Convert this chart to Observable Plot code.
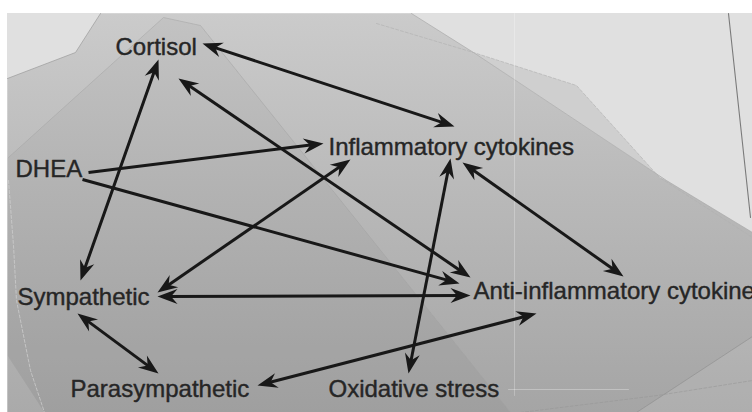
<!DOCTYPE html>
<html><head><meta charset="utf-8">
<script src="https://cdn.jsdelivr.net/npm/d3@7"></script>
<script src="https://cdn.jsdelivr.net/npm/@observablehq/plot@0.6"></script>
<style>html,body{margin:0;padding:0;background:#fff;} #chart svg{display:block;}</style>
</head><body><div id="chart"></div>
<script>
// ---- Nodes (diagram units: left edge x, vertical centre y) ----
const nodeNames = ["Cortisol", "DHEA", "Inflammatory cytokines", "Sympathetic", "Anti-inflammatory cytokines", "Parasympathetic", "Oxidative stress"];
const nodeX = [115, 15, 328, 17, 473, 70, 328];
const nodeY = [47, 169, 146.5, 297, 291, 388.5, 389];

// ---- Edges (start point -> end point), with heads ----
const edgeFrom  = ["Cortisol", "Cortisol", "Cortisol", "DHEA", "DHEA", "Inflammatory cytokines", "Sympathetic", "Inflammatory cytokines", "Inflammatory cytokines", "Sympathetic", "Parasympathetic"];
const edgeTo    = ["Inflammatory cytokines", "Sympathetic", "Anti-inflammatory cytokines", "Inflammatory cytokines", "Anti-inflammatory cytokines", "Sympathetic", "Anti-inflammatory cytokines", "Oxidative stress", "Anti-inflammatory cytokines", "Parasympathetic", "Anti-inflammatory cytokines"];
const edgeX1    = [202, 158, 178, 88, 82, 350, 157, 450, 462, 77, 257];
const edgeY1    = [43, 59, 78, 172, 179, 159, 296, 158, 162, 313, 385];
const edgeX2    = [454, 80, 470, 323, 459, 157, 470, 408, 623, 158, 536];
const edgeY2    = [126, 280, 277, 143, 283, 292, 295, 373, 276, 373, 313];
const headStart = [true, true, true, false, false, true, true, true, true, true, true];
const headEnd   = [true, true, true, true, true, true, true, true, true, true, true];

// ---- Background shapes (diagram units) ----
const panelX = [7, 752];
const panelY = [13, 412];
const shapeA = [[7,78],[75,52],[100,13],[411,13],[473,52],[666,180],[752,232],[752,412],[7,412]];
const shapeAEdge = [[7,78],[75,52],[100,13]];
const shapeAEdgeRight = [[411,13],[473,52],[666,180],[752,232]];
const shapeB = [[8,157],[163,17],[200,25],[510,412],[7,412],[7,158]];
const shapeBEdge = [[8,157],[163,17],[200,25],[510,412]];
const shapeC = [[473,52],[576,85],[659,177],[666,180]];
const shapeCEdge = [[376,23],[473,52],[576,85],[659,177],[752,237]];
const shapeD = [[636,412],[752,336],[752,412]];
const shapeDEdge = [[636,412],[752,336]];
const shapeDDash = [[520,412],[657,395],[752,380]];
const shapeE = [[7,355],[44,412],[7,412]];
const shapeEDash = [[8,180],[13,245],[16,300],[30,370],[44,412]];
const rightEdge = [[728,13],[750,217]];
const lightV = [[514,13],[514,395]];
const lightH = [[508,389],[628,389]];

// ---- derived tables ----
const nodes = nodeNames.map((name, i) => ({name, x: nodeX[i], y: nodeY[i]}));
const shafts = [], heads = [];
const inset = 9;
edgeX1.forEach((x1, i) => {
  const y1 = edgeY1[i], x2 = edgeX2[i], y2 = edgeY2[i];
  const len = Math.hypot(x2 - x1, y2 - y1), ux = (x2 - x1) / len, uy = (y2 - y1) / len;
  const a = Math.atan2(y2 - y1, x2 - x1) * 180 / Math.PI;
  const s = headStart[i] ? inset : 0, e = headEnd[i] ? inset : 0;
  shafts.push({x1: x1 + ux * s, y1: y1 + uy * s, x2: x2 - ux * e, y2: y2 - uy * e, from: edgeFrom[i], to: edgeTo[i]});
  if (headEnd[i]) heads.push({x: x2, y: y2, angle: a});
  if (headStart[i]) heads.push({x: x1, y: y1, angle: a + 180});
});
const pts = (arr) => arr.map(([x, y]) => ({x, y}));

const headShape = {
  draw(ctx) {
    ctx.moveTo(0, 0);
    ctx.lineTo(-20, -7.5);
    ctx.lineTo(-13.5, 0);
    ctx.lineTo(-20, 7.5);
    ctx.closePath();
  }
};

function shadeDefs(index, scales, values, dimensions, context) {
  const doc = (context && context.document) || document;
  const ns = "http://www.w3.org/2000/svg";
  const defs = doc.createElementNS(ns, "defs");
  const g = doc.createElementNS(ns, "linearGradient");
  g.setAttribute("id", "panelShade");
  g.setAttribute("gradientUnits", "userSpaceOnUse");
  g.setAttribute("x1", 0); g.setAttribute("x2", 0);
  g.setAttribute("y1", scales.y(panelY[0])); g.setAttribute("y2", scales.y(panelY[1]));
  [[0, "#cbcbcb"], [0.45, "#b9b9b9"], [1, "#a5a5a5"]].forEach(([o, c]) => {
    const st = doc.createElementNS(ns, "stop");
    st.setAttribute("offset", o); st.setAttribute("stop-color", c);
    g.appendChild(st);
  });
  defs.appendChild(g);
  return defs;
}

const lineOpts = {x: "x", y: "y", curve: "linear"};
const chart = Plot.plot({
  width: 752, height: 412, margin: 0,
  x: {domain: [0, 752], range: [0, 752], axis: null},
  y: {domain: [0, 412], range: [0, 412], axis: null},
  style: {background: "#ffffff", overflow: "hidden"},
  marks: [
    shadeDefs,
    Plot.rect([{}], {x1: () => panelX[0], x2: () => panelX[1], y1: () => panelY[0], y2: () => panelY[1], fill: "#e0e0e0"}),
    Plot.line(pts(shapeA), {...lineOpts, fill: "url(#panelShade)", stroke: "none"}),
    Plot.line(pts(shapeB), {...lineOpts, fill: "#000", fillOpacity: 0.035, stroke: "none"}),
    Plot.line(pts(shapeC), {...lineOpts, fill: "#cfcfcf", stroke: "none"}),
    Plot.line(pts(shapeD), {...lineOpts, fill: "#fff", fillOpacity: 0.1, stroke: "none"}),
    Plot.line(pts(shapeE), {...lineOpts, fill: "#fff", fillOpacity: 0.12, stroke: "none"}),
    Plot.line(pts(shapeAEdge), {...lineOpts, stroke: "#9c9c9c", strokeWidth: 0.9, strokeOpacity: 0.8}),
    Plot.line(pts(shapeAEdgeRight), {...lineOpts, stroke: "#a5a5a5", strokeWidth: 0.9, strokeOpacity: 0.7}),
    Plot.line(pts(shapeBEdge), {...lineOpts, stroke: "#a0a0a0", strokeWidth: 0.8, strokeOpacity: 0.6}),
    Plot.line(pts(shapeCEdge), {...lineOpts, stroke: "#b0b0b0", strokeWidth: 0.8, strokeDasharray: "3,2", strokeOpacity: 0.8}),
    Plot.line(pts(shapeDEdge), {...lineOpts, stroke: "#8e8e8e", strokeWidth: 0.9, strokeOpacity: 0.7}),
    Plot.line(pts(shapeDDash), {...lineOpts, stroke: "#959595", strokeWidth: 0.8, strokeDasharray: "3,2", strokeOpacity: 0.7}),
    Plot.line(pts(shapeEDash), {...lineOpts, stroke: "#d0d0d0", strokeWidth: 0.9, strokeDasharray: "3,2", strokeOpacity: 0.8}),
    Plot.line(pts(rightEdge), {...lineOpts, stroke: "#7a7a7a", strokeWidth: 1.1}),
    Plot.line(pts(lightV), {...lineOpts, stroke: "#ffffff", strokeWidth: 1, strokeOpacity: 0.25}),
    Plot.line(pts(lightH), {...lineOpts, stroke: "#ffffff", strokeWidth: 1, strokeOpacity: 0.3}),
    Plot.link(shafts, {x1: "x1", y1: "y1", x2: "x2", y2: "y2", stroke: "#181818", strokeWidth: 3, strokeLinecap: "butt"}),
    Plot.dot(heads, {x: "x", y: "y", rotate: "angle", symbol: headShape, r: 5, fill: "#181818", stroke: "none"}),
    Plot.text(nodes, {x: "x", y: "y", text: "name", textAnchor: "start", fontSize: 24,
      fontFamily: "'Liberation Sans', Arial, Helvetica, sans-serif", fill: "#262626", stroke: "#262626", strokeWidth: 0.4})
  ]
});
document.getElementById("chart").appendChild(chart);
</script>
</body></html>
